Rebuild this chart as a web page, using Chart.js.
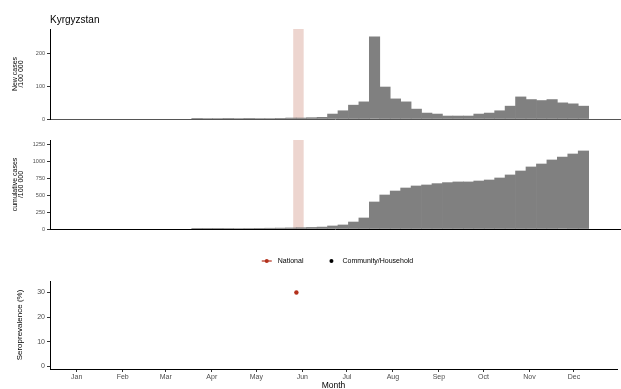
<!DOCTYPE html>
<html>
<head>
<meta charset="utf-8">
<script src="https://cdn.jsdelivr.net/npm/chart.js@4.4.1/dist/chart.umd.min.js"></script>
<style>
  html, body { margin: 0; padding: 0; background: #ffffff; }
  #wrap { position: relative; width: 621px; height: 389px; overflow: hidden; }
  canvas { position: absolute; left: 0; }
</style>
</head>
<body>
<div id="wrap">
  <canvas id="newCases" width="621" height="125" style="top:0px"></canvas>
  <canvas id="cumCases" width="621" height="105" style="top:130px"></canvas>
  <canvas id="sero" width="621" height="149" style="top:240px"></canvas>
</div>
<script>
const countryName = 'Kyrgyzstan';

// Start of each weekly bin, as day of 2020 (0 = 1 Jan)
const weekStart = [0, 7, 14, 21, 28, 35, 42, 49, 56, 63, 70, 77, 84, 91, 98, 105, 112, 119,
  126, 133, 140, 147, 154, 161, 168, 175, 182, 189, 196, 203, 210, 217, 224, 231, 238, 245,
  252, 259, 266, 273, 280, 287, 294, 301, 308, 315, 322, 329, 336];

// Weekly new cases per 100 000
const newCases = [0, 0, 0, 0, 0, 0, 0, 0, 0, 0, 0,
  1, 1.5, 1.5, 2, 1.5, 1, 1.5, 1.5, 2, 3, 3, 4, 5,
  15, 25, 42, 52, 249, 97, 61, 52, 30, 18, 15, 9, 9, 9, 15, 18, 25, 39, 67, 59, 56, 59, 49, 46, 39];

// Cumulative cases per 100 000 at the end of each week
const cumulativeCases = [0, 0, 0, 0, 0, 0, 0, 0, 0, 0, 0,
  1, 2.5, 4, 6, 7.5, 8.5, 10, 11.5, 13.5, 16.5, 19.5, 23.5, 28.5,
  45, 60, 104, 164, 402, 506, 565, 610, 640, 655, 675, 690, 700, 700, 714, 729, 759, 804,
  863, 923, 967, 1027, 1071, 1116, 1161];

// Month tick positions (first day of each month, day of 2020) and labels
const monthStart = [0, 31, 60, 91, 121, 152, 182, 213, 244, 274, 305, 335];
const monthLabels = ['Jan', 'Feb', 'Mar', 'Apr', 'May', 'Jun', 'Jul', 'Aug', 'Sep', 'Oct', 'Nov', 'Dec'];

const newCasesTicks = [0, 100, 200];
const cumulativeTicks = [0, 250, 500, 750, 1000, 1250];
const seroTicks = [0, 10, 20, 30];

// Serosurvey: national estimate and its sampling window
const seroDay = [148];
const seroNational = [30];
const surveyWindow = [145, 152];

const legendLabels = ['National', 'Community/Household'];
const legendColors = ['#B3301B', '#000000'];

const FONT = "'Liberation Sans', Arial, Helvetica, sans-serif";
Chart.defaults.font.family = FONT;

const X_MIN = -18, X_MAX = 364;
const BAR_GREY = '#808080';
const TICK_TEXT = '#4D4D4D';
const TICK_MARK = '#333333';

function xAxis(withLabels, axisColor) {
  return {
    type: 'linear',
    min: X_MIN,
    max: X_MAX,
    offset: false,
    afterBuildTicks: s => { s.ticks = monthStart.map(v => ({ value: v })); },
    afterFit: s => { s.height = withLabels ? 20 : 0; },
    ticks: {
      display: withLabels,
      autoSkip: false,
      maxRotation: 0,
      padding: 1,
      color: TICK_TEXT,
      font: { size: 7, lineHeight: 1.2 },
      callback: (v, i) => monthLabels[i]
    },
    grid: { display: withLabels, offset: false, drawOnChartArea: false, tickLength: 3, color: TICK_MARK, lineWidth: 1 },
    border: { display: true, color: axisColor, width: 1 },
    title: withLabels ? {
      display: true, text: 'Month', color: '#000',
      font: { size: 8.5, lineHeight: 0.8 }, padding: { top: 0, bottom: 0 }
    } : { display: false }
  };
}

function yAxis(tickValues, min, max, tickSize, titleText, titleSize, titleLineHeight, titlePad) {
  return {
    type: 'linear',
    min: min,
    max: max,
    afterBuildTicks: s => { s.ticks = tickValues.map(v => ({ value: v })); },
    afterFit: s => { s.width = 50; },
    ticks: {
      autoSkip: false,
      padding: 2,
      color: TICK_TEXT,
      font: { size: tickSize },
      callback: v => String(v)
    },
    grid: { drawOnChartArea: false, tickLength: 3, color: TICK_MARK, lineWidth: 1 },
    border: { display: true, color: '#000', width: 1 },
    title: {
      display: true, text: titleText, color: '#000',
      font: { size: titleSize, lineHeight: titleLineHeight },
      padding: { top: titlePad, bottom: 0 }
    }
  };
}

// Shaded serosurvey sampling window behind the case bars
const surveyBand = {
  id: 'surveyBand',
  beforeDatasetsDraw(chart) {
    const { ctx, chartArea, scales } = chart;
    const x0 = scales.x.getPixelForValue(surveyWindow[0]);
    const x1 = scales.x.getPixelForValue(surveyWindow[1]);
    ctx.save();
    ctx.fillStyle = '#EDD5CF';
    ctx.fillRect(x0, chartArea.top, x1 - x0, chartArea.bottom - chartArea.top);
    ctx.restore();
  }
};

// Weeks without cases are left empty rather than drawn as zero-height bars
function barData(values) {
  return weekStart.map((d, i) => ({ x: d + 3.5, y: values[i] === 0 ? null : values[i] }));
}

const common = {
  responsive: false,
  maintainAspectRatio: false,
  animation: false,
  events: []
};

new Chart(document.getElementById('newCases'), {
  type: 'bar',
  data: {
    datasets: [{
      label: 'New cases',
      data: barData(newCases),
      backgroundColor: BAR_GREY,
      borderWidth: 0,
      barPercentage: 1,
      categoryPercentage: 1
    }]
  },
  options: {
    ...common,
    layout: { padding: { left: 0, right: 1, top: 0, bottom: 6 } },
    plugins: {
      legend: { display: false },
      tooltip: { enabled: false },
      title: {
        display: true, text: countryName, align: 'start', fullSize: false,
        color: '#000', font: { size: 10, weight: 'normal', lineHeight: 1.2 },
        padding: { top: 14, bottom: 3 }
      }
    },
    scales: {
      x: xAxis(false, '#555555'),
      y: yAxis(newCasesTicks, 0, 273, 5.5, ['New cases', '/100 000'], 7, 0.86, 12)
    }
  },
  plugins: [surveyBand]
});

new Chart(document.getElementById('cumCases'), {
  type: 'bar',
  data: {
    datasets: [{
      label: 'cumulative cases',
      data: barData(cumulativeCases),
      backgroundColor: BAR_GREY,
      borderWidth: 0,
      barPercentage: 1,
      categoryPercentage: 1
    }]
  },
  options: {
    ...common,
    layout: { padding: { left: 0, right: 1, top: 10, bottom: 6 } },
    plugins: { legend: { display: false }, tooltip: { enabled: false } },
    scales: {
      x: xAxis(false, '#000000'),
      y: yAxis(cumulativeTicks, 0, 1324, 5.5, ['cumulative cases', '/100 000'], 7, 0.86, 12)
    }
  },
  plugins: [surveyBand]
});

// Legend keys above the serosurvey panel
const keyLegend = {
  id: 'keyLegend',
  afterDraw(chart) {
    const { ctx, chartArea } = chart;
    const keyW = 10, textGap = 6, itemGap = 23, y = 21;
    ctx.save();
    ctx.font = '7px ' + FONT;
    const widths = legendLabels.map(t => ctx.measureText(t).width);
    const total = widths.reduce((a, w) => a + keyW + textGap + w, 0) + itemGap * (legendLabels.length - 1);
    let x = (chartArea.left + chartArea.right) / 2 + 4 - total / 2;
    legendLabels.forEach((label, i) => {
      const cx = x + keyW / 2;
      ctx.fillStyle = legendColors[i];
      ctx.strokeStyle = legendColors[i];
      if (i === 0) {
        ctx.lineWidth = 1.2;
        ctx.beginPath();
        ctx.moveTo(x, y);
        ctx.lineTo(x + keyW, y);
        ctx.stroke();
      }
      ctx.beginPath();
      ctx.arc(cx, y, 2, 0, Math.PI * 2);
      ctx.fill();
      ctx.fillStyle = '#000';
      ctx.textAlign = 'left';
      ctx.textBaseline = 'middle';
      ctx.fillText(label, x + keyW + textGap, y);
      x += keyW + textGap + widths[i] + itemGap;
    });
    ctx.restore();
  }
};

new Chart(document.getElementById('sero'), {
  type: 'scatter',
  data: {
    datasets: [{
      label: legendLabels[0],
      data: seroDay.map((d, i) => ({ x: d, y: seroNational[i] })),
      backgroundColor: legendColors[0],
      borderWidth: 0,
      pointRadius: 2.2
    }, {
      label: legendLabels[1],
      data: [],
      backgroundColor: legendColors[1],
      borderWidth: 0,
      pointRadius: 2.2
    }]
  },
  options: {
    ...common,
    layout: { padding: { left: 0, right: 1, top: 41, bottom: 0 } },
    plugins: { legend: { display: false }, tooltip: { enabled: false } },
    scales: {
      x: xAxis(true, '#000000'),
      y: yAxis(seroTicks, -1.1, 34.7, 7, 'Seroprevalence (%)', 8, 1.2, 15.2)
    }
  },
  plugins: [keyLegend]
});
</script>
</body>
</html>
